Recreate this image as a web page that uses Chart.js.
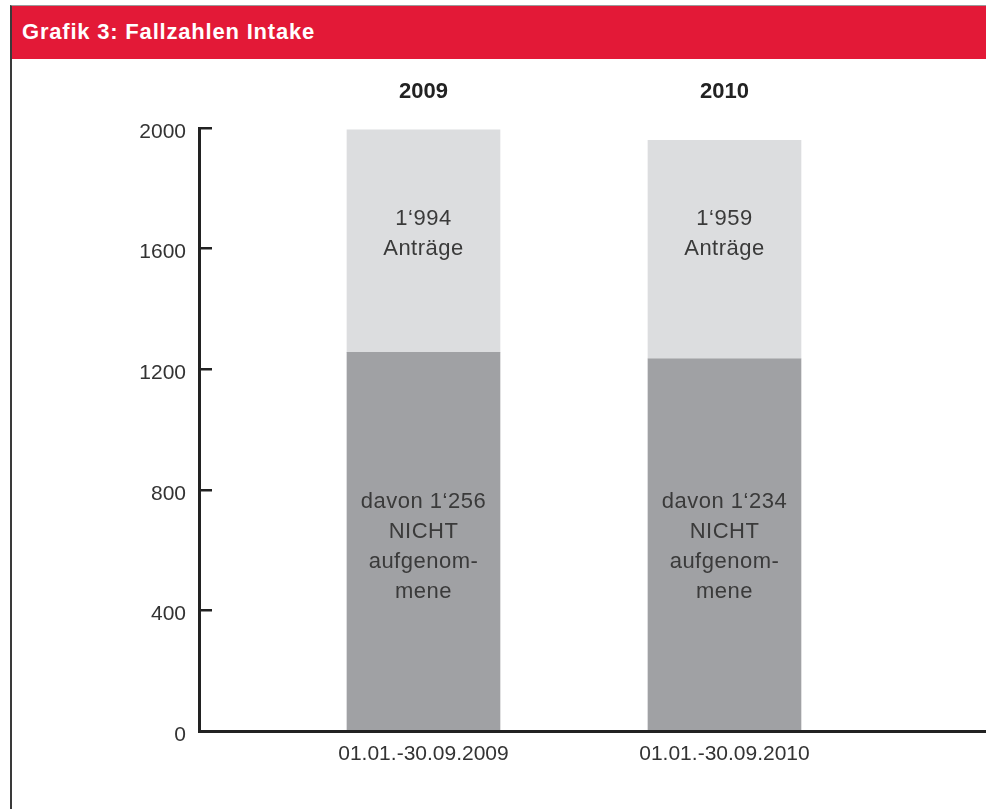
<!DOCTYPE html>
<html>
<head>
<meta charset="utf-8">
<script src="https://cdn.jsdelivr.net/npm/chart.js@4"></script>
<style>
  html, body { margin: 0; padding: 0; background: #fff; }
  body { width: 986px; height: 809px; position: relative; overflow: hidden; }
  #frame { position: absolute; left: 10px; top: 5px; width: 990px; height: 820px;
           border-left: 2px solid #3a3a3a; border-top: 1px solid #9a9a9a; box-sizing: border-box; }
  #header { position: absolute; left: 12px; top: 6px; width: 974px; height: 53px; background: #E31937;
            color: #fff; font-family: 'Liberation Sans', Arial, sans-serif; font-weight: bold;
            font-size: 22px; letter-spacing: 0.8px; line-height: 52px; padding-left: 10px; box-sizing: border-box; z-index: 2; }
  #wrap { position: absolute; left: 0; top: 0; width: 986px; height: 809px; }
</style>
</head>
<body>
<div id="frame"></div>
<div id="header">Grafik 3: Fallzahlen Intake</div>
<div id="wrap"><canvas id="c" width="986" height="809"></canvas></div>
<script>
// ---- data ----
const periods = ['01.01.-30.09.2009', '01.01.-30.09.2010'];
const years = ['2009', '2010'];
const positions = [1, 2];
const totalApplications = [1994, 1959];
const notAdmitted = [1256, 1234];
const remainder = totalApplications.map((t, i) => t - notAdmitted[i]);
const yTickValues = [0, 400, 800, 1200, 1600, 2000];

const fmt = n => String(n).replace(/\B(?=(\d{3})+$)/g, '\u2018');
const lightLabels = totalApplications.map(t => [fmt(t), 'Anträge']);
const darkLabels = notAdmitted.map(n => ['davon ' + fmt(n), 'NICHT', 'aufgenom-', 'mene']);

const FONT = "'Liberation Sans', Arial, sans-serif";
Chart.defaults.font.family = FONT;
Chart.defaults.color = '#333';

const barLabelPlugin = {
  id: 'barLabels',
  afterDatasetsDraw(chart) {
    const ctx = chart.ctx;
    const yScale = chart.scales.y;
    ctx.save();
    ctx.font = '22px ' + FONT;
    if ('letterSpacing' in ctx) ctx.letterSpacing = '0.5px';
    ctx.fillStyle = '#3a3a3a';
    ctx.textAlign = 'center';
    ctx.textBaseline = 'middle';
    const lh = 30;
    const draw = (lines, x, cy) =>
      lines.forEach((ln, k) => ctx.fillText(ln, x, cy + (k - (lines.length - 1) / 2) * lh));
    chart.getDatasetMeta(0).data.forEach((el, i) => draw(darkLabels[i], el.x, yScale.getPixelForValue(612)));
    chart.getDatasetMeta(1).data.forEach((el, i) => draw(lightLabels[i], el.x, yScale.getPixelForValue(1648)));
    ctx.restore();
  }
};

new Chart(document.getElementById('c'), {
  type: 'bar',
  data: {
    datasets: [
      { label: 'nicht aufgenommen', data: positions.map((x, i) => ({ x, y: notAdmitted[i] })),
        backgroundColor: '#A0A1A4', barThickness: 153, xAxisID: 'x', yAxisID: 'y' },
      { label: 'Anträge', data: positions.map((x, i) => ({ x, y: remainder[i] })),
        backgroundColor: '#DCDDDF', barThickness: 153, xAxisID: 'x', yAxisID: 'y' }
    ]
  },
  options: {
    responsive: false,
    animation: false,
    layout: { padding: 0 },
    plugins: { legend: { display: false }, tooltip: { enabled: false } },
    scales: {
      x: {
        type: 'linear', position: 'bottom', stacked: true, offset: false, bounds: 'data',
        min: 0.2542, max: 2.8688,
        afterBuildTicks: s => { s.ticks = positions.map(v => ({ value: v })); },
        afterFit: s => { s.height = 78; },
        ticks: { callback: v => periods[positions.indexOf(v)], autoSkip: false, maxRotation: 0,
                 padding: 11, font: { size: 21 }, color: '#333' },
        grid: { display: true, drawOnChartArea: false, drawTicks: false, offset: false },
        border: { display: true, color: '#222', width: 3 }
      },
      xTop: {
        type: 'linear', position: 'top', offset: false, bounds: 'data',
        min: 0.2542, max: 2.8688,
        afterBuildTicks: s => { s.ticks = positions.map(v => ({ value: v })); },
        afterFit: s => { s.height = 128; },
        ticks: { callback: v => years[positions.indexOf(v)], autoSkip: false, maxRotation: 0,
                 padding: 23, font: { size: 22, weight: 'bold' }, color: '#222' },
        grid: { display: false, drawTicks: false },
        border: { display: false }
      },
      y: {
        type: 'linear', position: 'left', stacked: true,
        min: 0, max: 2000,
        afterBuildTicks: s => { s.ticks = yTickValues.map(v => ({ value: v })); },
        afterFit: s => { s.width = 199; },
        ticks: { callback: v => String(v), padding: 26, labelOffset: 4, font: { size: 21 }, color: '#333' },
        grid: { display: true, drawOnChartArea: false, drawTicks: true, tickLength: -13,
                color: '#222', lineWidth: 2.5 },
        border: { display: true, color: '#222', width: 3 }
      }
    }
  },
  plugins: [barLabelPlugin]
});
</script>
</body>
</html>
